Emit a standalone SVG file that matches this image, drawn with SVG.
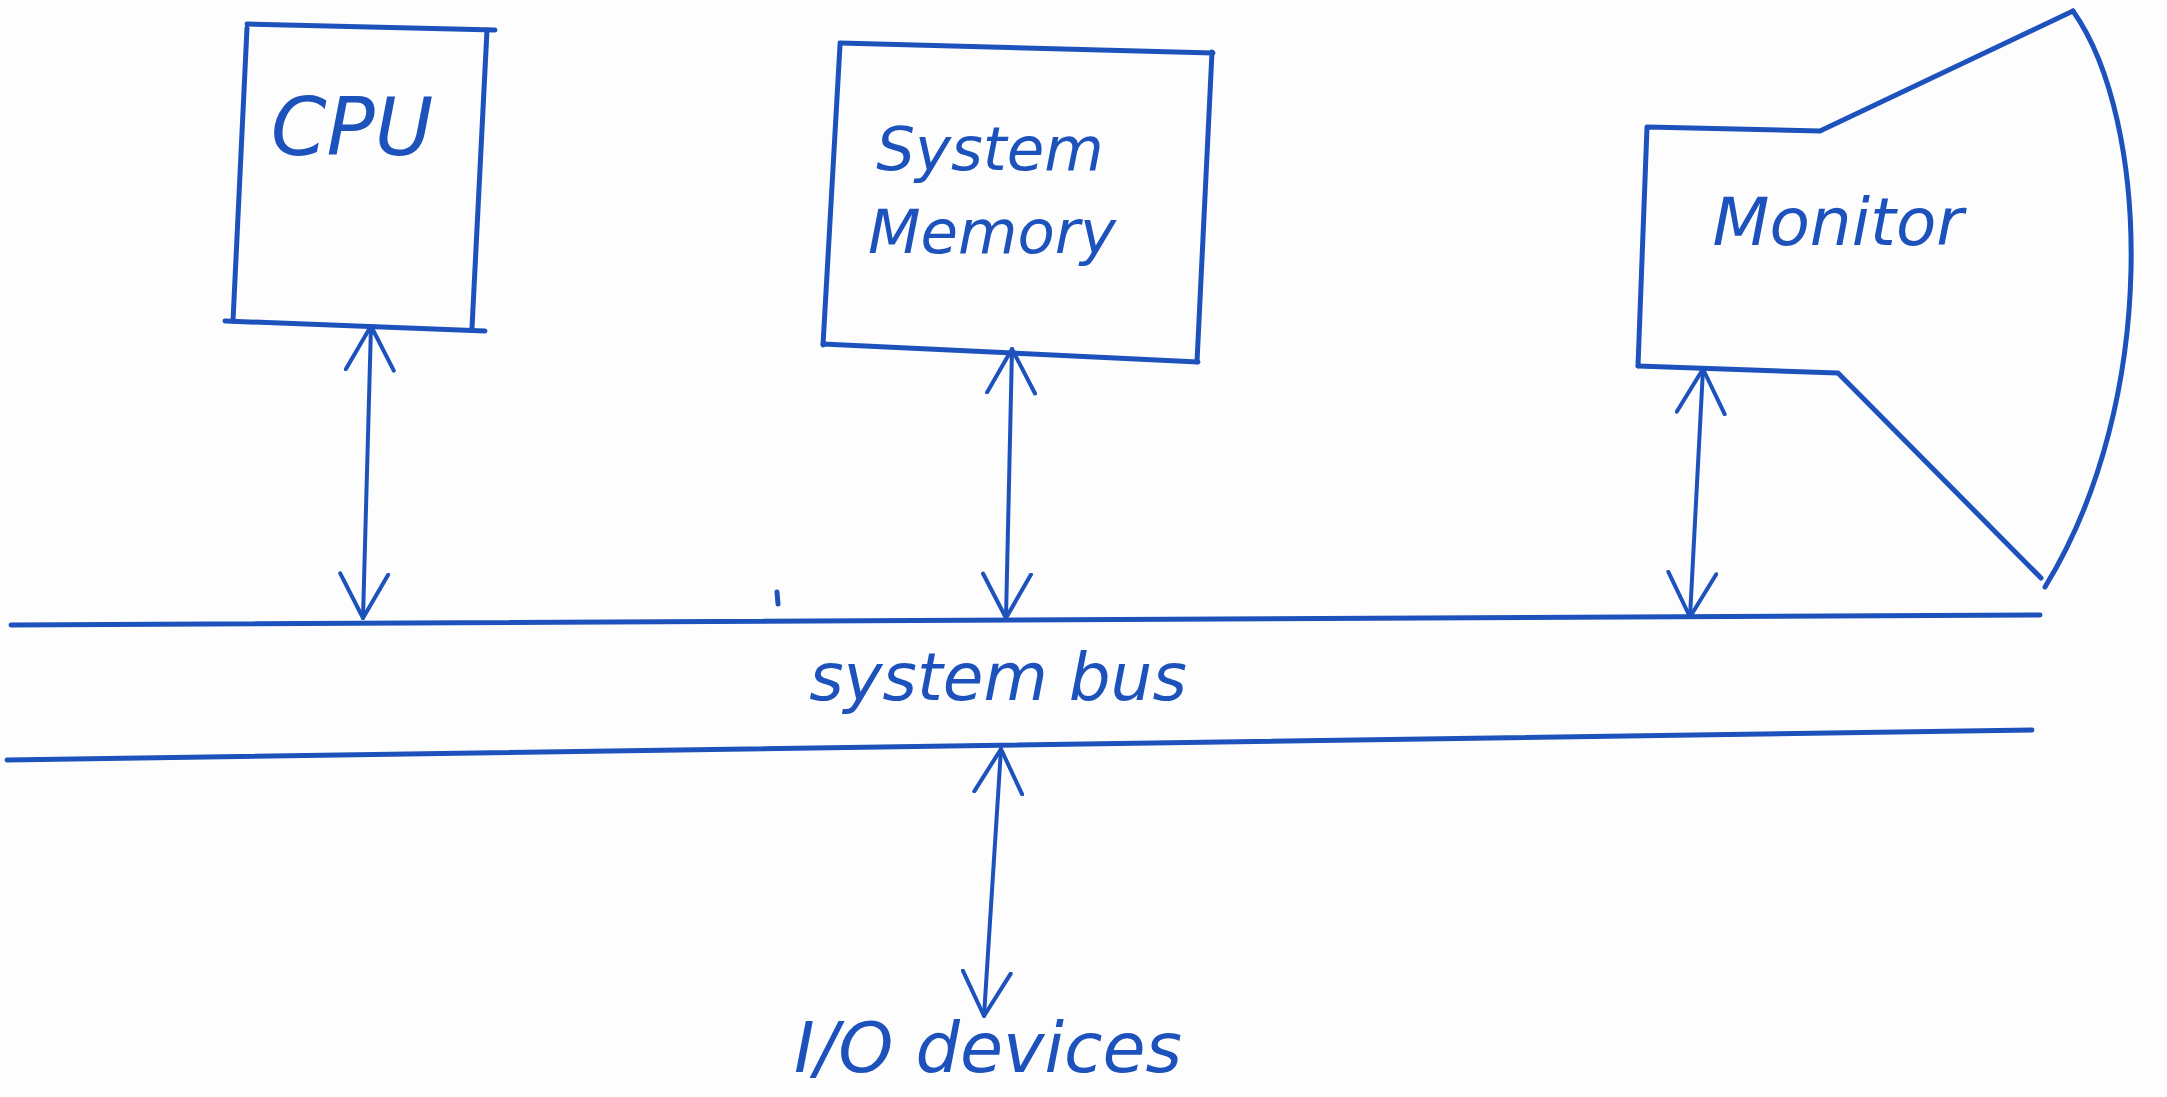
<svg xmlns="http://www.w3.org/2000/svg" width="2167" height="1097" viewBox="0 0 2167 1097">
  <defs>
    <style>
      .pen { fill: none; stroke: #1d52bd; stroke-width: 5; stroke-linecap: round; stroke-linejoin: round; }
      .hand { fill: #1d52bd; font-family: "DejaVu Sans", "Liberation Sans", sans-serif; font-style: italic; }
      .link { fill: none; stroke: #1d52bd; stroke-width: 4; stroke-linecap: round; marker-start: url(#head); marker-end: url(#head); }
    </style>
    <!-- open V arrowhead, reused at both ends of every bus link -->
    <marker id="head" viewBox="0 0 48 52" refX="46" refY="26" markerWidth="48" markerHeight="52" markerUnits="userSpaceOnUse" orient="auto-start-reverse">
      <path d="M2,2 L46,26 L2,50" fill="none" stroke="#1d52bd" stroke-width="4" stroke-linecap="round" stroke-linejoin="round"/>
    </marker>
  </defs>

  <rect width="2167" height="1097" fill="#fdfdfd"/>

  <!-- CPU -->
  <g id="cpu">
    <polyline class="pen" points="247,24 495,30"/>
    <polyline class="pen" points="247,28 233,321"/>
    <polyline class="pen" points="487,30 472,328"/>
    <polyline class="pen" points="225,321 485,331"/>
    <text class="hand" x="352" y="155" font-size="80" text-anchor="middle">CPU</text>
  </g>

  <!-- System Memory -->
  <g id="memory">
    <polyline class="pen" points="840,43 1213,53"/>
    <polyline class="pen" points="840,45 823,345"/>
    <polyline class="pen" points="1212,52 1197,362"/>
    <polyline class="pen" points="823,344 1198,362"/>
    <text class="hand" x="990" y="170" font-size="61" text-anchor="middle">System</text>
    <text class="hand" x="992" y="253" font-size="61" text-anchor="middle">Memory</text>
  </g>

  <!-- Monitor: screen body with a curved front face -->
  <g id="monitor">
    <polyline class="pen" points="1638,366 1647,127 1820,131 2073,11"/>
    <path class="pen" d="M2073,11 C2150,120 2160,400 2045,587"/>
    <polyline class="pen" points="1638,366 1838,373 2041,578"/>
    <text class="hand" x="1838" y="245" font-size="66" text-anchor="middle">Monitor</text>
  </g>

  <!-- system bus -->
  <g id="bus">
    <polyline class="pen" points="11,625 2040,615"/>
    <polyline class="pen" points="7,760 2032,730"/>
    <line class="pen" x1="777" y1="592" x2="778" y2="604"/>
    <text class="hand" x="998" y="700" font-size="66" text-anchor="middle">system bus</text>
  </g>

  <!-- I/O devices -->
  <g id="io">
    <text class="hand" x="988" y="1072" font-size="70" text-anchor="middle">I/O devices</text>
  </g>

  <!-- bus connections -->
  <g id="connectors">
    <line class="link" x1="371" y1="326" x2="363" y2="618"/>
    <line class="link" x1="1012" y1="349" x2="1006" y2="618"/>
    <line class="link" x1="1703" y1="369" x2="1690" y2="617"/>
    <line class="link" x1="1001" y1="749" x2="984" y2="1016"/>
  </g>
</svg>
